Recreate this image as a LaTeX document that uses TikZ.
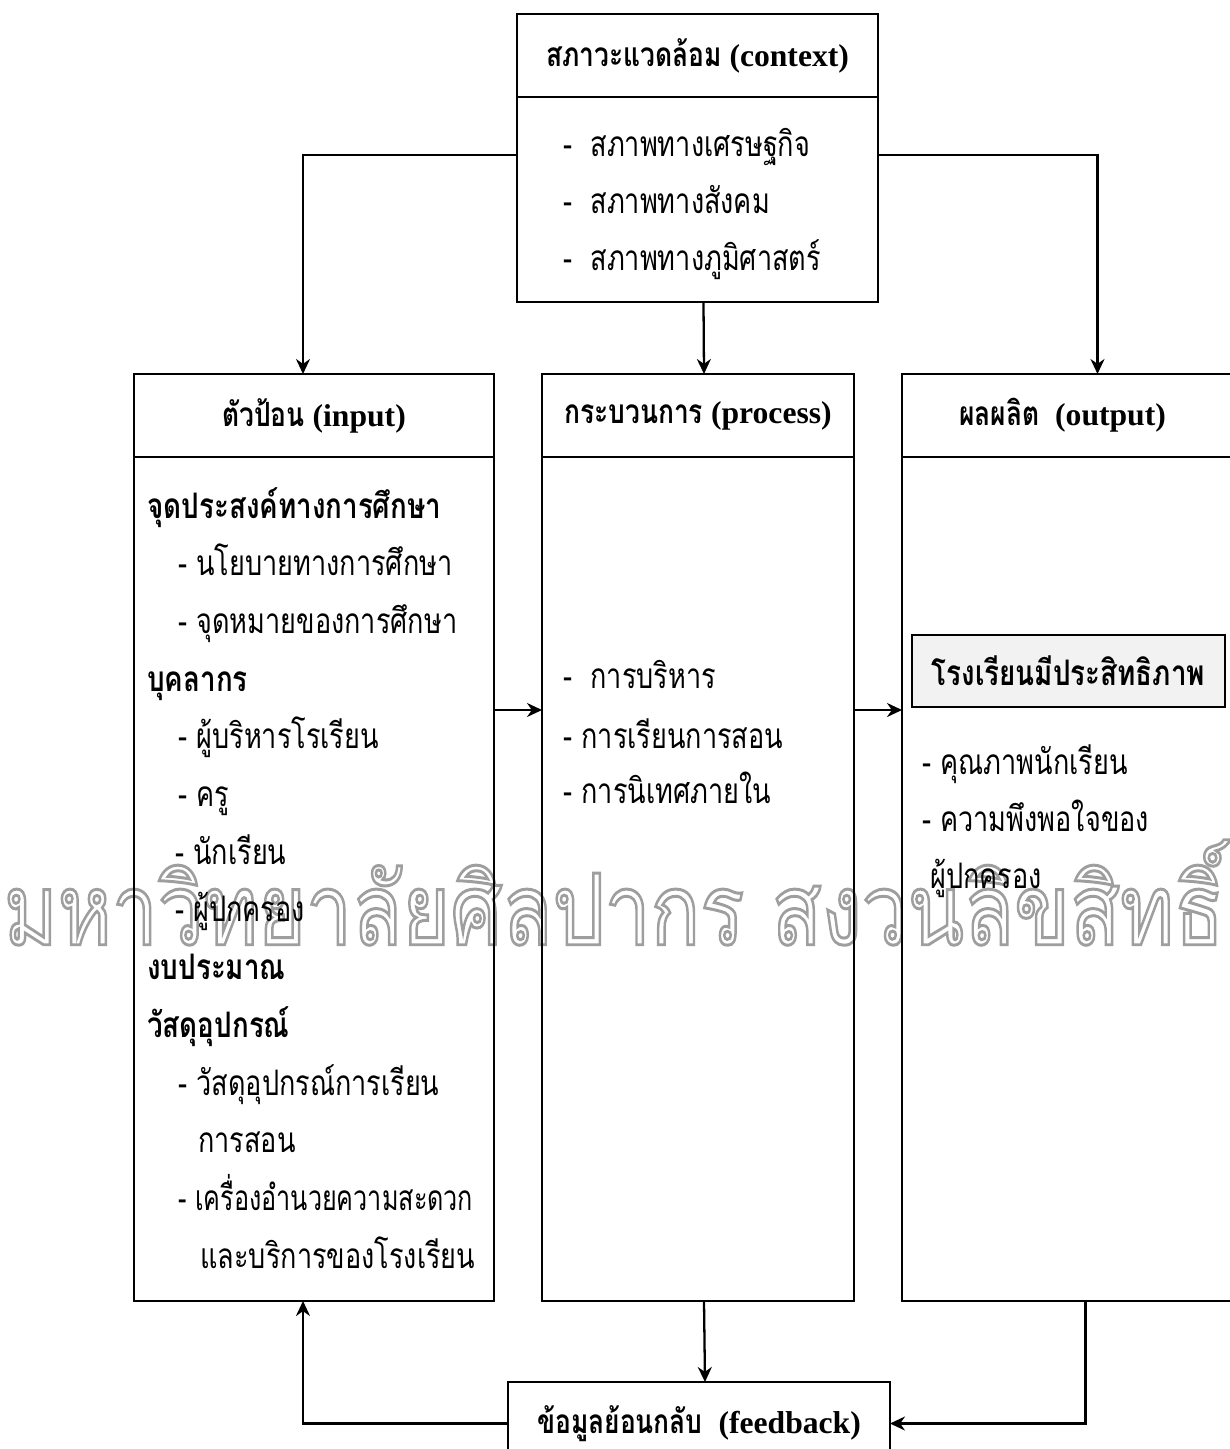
\documentclass[tikz,border=0pt]{standalone}
\usepackage{fontspec}
\setmainfont{Liberation Serif}
\newfontfamily\thai[Script=Thai, FakeStretch=0.77, BoldFeatures={FakeStretch=0.79}]{Loma}
\newfontfamily\wmfont[Script=Thai]{Loma}
\usetikzlibrary{arrows.meta,positioning,calc}
\tikzstyle{box}=[draw, line width=1.5pt, outer sep=0pt, inner sep=0pt]
\tikzstyle{hd}=[box, minimum height=1.66cm, font=\fontsize{18}{22}\selectfont\bfseries]
\tikzstyle{item}=[anchor=base west, inner sep=0pt, font=\thai\fontsize{20}{24}\selectfont]
\tikzstyle{arr}=[line width=1.3pt, -{Stealth[length=3mm,width=2.8mm]}]
\newcommand{\outlineon}{\special{pdf:literal 1 Tr 0.3 w 0.62 0.62 0.62 RG}}
\newcommand{\outlineoff}{\special{pdf:literal 0 Tr 0 0 0 RG}}
\newcommand{\hth}{\thai\fontsize{19}{23}\selectfont}

\begin{document}
\begin{tikzpicture}
\useasboundingbox (0,0) rectangle (24.58,-28.98);
% watermark
\node (wm) at (12.28,-17.85) {\resizebox{24.4cm}{2.1cm}{\outlineon\wmfont มหาวิทยาลัยศิลปากร สงวนลิขสิทธิ์\outlineoff}};

% context
\node (ctxh) [hd, minimum width=7.22cm, anchor=north west] at (10.34,-0.28) {{\hth สภาวะแวดล้อม} (context)};
\node (ctx) [box, minimum width=7.22cm, minimum height=4.1cm, below=0pt of ctxh] {};
\foreach \t [count=\i] in {สภาพทางเศรษฐกิจ, สภาพทางสังคม, สภาพทางภูมิศาสตร์}
  \node (c\i) [item] at (11.26,-3.12-1.14*\i+1.14) {-\ \ \t};

% input
\node (inph) [hd, minimum width=7.2cm, anchor=north west] at (2.68,-7.48) {{\hth ตัวป้อน} (input)};
\node (inp) [box, minimum width=7.2cm, minimum height=16.88cm, below=0pt of inph] {};
\foreach \t [count=\i] in {{\bfseries จุดประสงค์ทางการศึกษา},
    \hspace{0.62cm}- นโยบายทางการศึกษา, \hspace{0.62cm}- จุดหมายของการศึกษา,
    {\bfseries บุคลากร}, \hspace{0.62cm}- ผู้บริหารโรเรียน, \hspace{0.62cm}- ครู,
    \hspace{0.56cm}- นักเรียน, \hspace{0.56cm}- ผู้ปกครอง,
    {\bfseries งบประมาณ}, {\bfseries วัสดุอุปกรณ์},
    \hspace{0.62cm}- วัสดุอุปกรณ์การเรียน, \hspace{1.02cm}การสอน,
    \hspace{0.62cm}\scalebox{0.93}[1]{- เครื่องอำนวยความสะดวก}, \hspace{1.06cm}และบริการของโรงเรียน}
  \node (i\i) [item] at (2.94,-10.36-1.154*\i+1.154) {\t};

% process
\node (proch) [hd, minimum width=6.24cm, anchor=north west] at (10.84,-7.48) {{\hth กระบวนการ} (process)};
\node (proc) [box, minimum width=6.24cm, minimum height=16.88cm, below=0pt of proch] {};
\node (p1) [item] at (11.26,-13.76) {-\ \ การบริหาร};
\node (p2) [item] at (11.26,-14.96) {- การเรียนการสอน};
\node (p3) [item] at (11.26,-16.06) {- การนิเทศภายใน};

% output
\node (outh) [hd, minimum width=6.86cm, anchor=north west] at (18.04,-7.48) {\hspace{-0.44cm}{\hth ผลผลิต}\ \ (output)};
\node (outp) [box, minimum width=6.86cm, minimum height=16.88cm, below=0pt of outh] {};
\node (eff) [box, line width=1pt, fill=black!5, minimum width=6.26cm, minimum height=1.44cm, anchor=north west,
  font=\thai\fontsize{20}{24}\selectfont\bfseries] at (18.24,-12.7) {โรงเรียนมีประสิทธิภาพ};
\node (o1) [item] at (18.44,-15.48) {- คุณภาพนักเรียน};
\node (o2) [item] at (18.44,-16.62) {- ความพึงพอใจของ};
\node (o3) [item] at (18.6,-17.76) {ผู้ปกครอง};

% feedback
\node (fb) [hd, minimum width=7.64cm, anchor=north west] at (10.16,-27.64) {{\hth ข้อมูลย้อนกลับ}\ \ (feedback)};

\draw[arr] ([yshift=0.89cm]ctx.west) -| ([xshift=-0.22cm]inph.north);
\draw[arr] ([yshift=0.89cm]ctx.east) -| ([xshift=0.48cm]outh.north);
\draw[arr] ([xshift=0.12cm]ctx.south) -- ([xshift=0.12cm]proch.north);
\draw[arr] ([yshift=3.38cm]inp.east) -- ([yshift=3.38cm]proc.west);
\draw[arr] ([yshift=3.38cm]proc.east) -- ([yshift=3.38cm]outp.west);
\draw[arr] ([xshift=0.12cm]proc.south) -- ([xshift=0.12cm]fb.north);
\draw[arr] ([xshift=0.24cm]outp.south) |- (fb.east);
\draw[arr] (fb.west) -| ([xshift=-0.22cm]inp.south);
\end{tikzpicture}
\end{document}
